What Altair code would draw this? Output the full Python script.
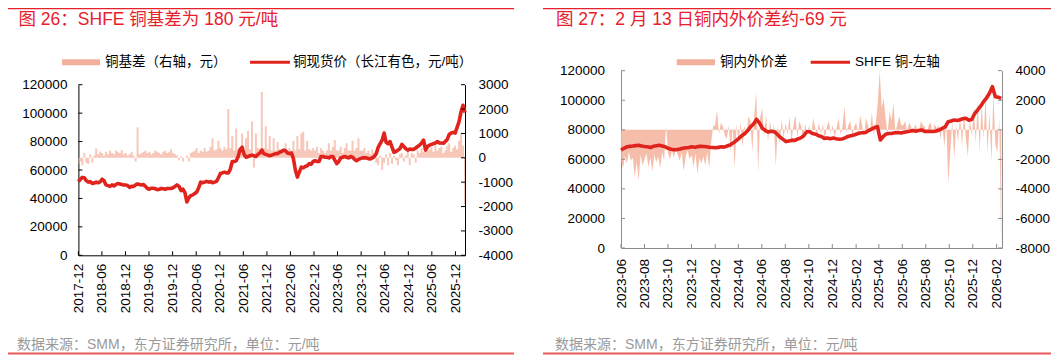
import altair as alt
import pandas as pd

# ---------------- data ----------------
# Left panel: Changjiang spot copper price (yuan/t), ~2 readings per month, 2017-12 .. 2026-02-13
left_price = [
    51800, 53500,                                                   # 2017-12
    54800, 54500, 52500, 51500, 51800, 50500, 50800, 51500, 51000, 51600, 53500, 52500,   # 2018 H1
    49500, 49000, 48500, 49500, 48800, 49800, 50500, 50200, 49800, 49500, 49500, 49000,   # 2018 H2
    47800, 48500, 48500, 49500, 50200, 49800, 49500, 49800, 48500, 47000, 46500, 47200,   # 2019 H1
    47200, 46800, 46200, 46500, 47000, 46800, 46500, 47000, 47000, 47000, 47500, 48500,   # 2019 H2
    49500, 48500, 45500, 46500, 44000, 37500, 40500, 42000, 42500, 43500, 44500, 47500,   # 2020 H1
    51500, 51000, 51500, 52000, 51500, 51800, 51000, 51500, 52000, 54500, 57500, 58000,   # 2020 H2
    58500, 58000, 58000, 60500, 66000, 66000, 66500, 69500, 74500, 76000, 71000, 69000,   # 2021 H1
    69500, 70000, 70500, 70000, 69500, 71000, 72000, 74000, 71500, 71000, 70500, 70000,   # 2021 H2
    70500, 71000, 71500, 71500, 72500, 73000, 74000, 73500, 72000, 71500, 72000, 68000,   # 2022 H1
    60000, 55000, 58500, 62000, 61500, 62500, 63000, 64500, 64000, 66000, 66500, 66000,   # 2022 H2
    66000, 69500, 69500, 69000, 69000, 68500, 69500, 69500, 67000, 64500, 66000, 68500,   # 2023 H1
    69000, 69500, 69000, 68500, 69500, 69000, 67500, 66500, 67500, 68000, 68500, 68500,   # 2023 H2
    68500, 68000, 67800, 68500, 69500, 71500, 76000, 78500, 81000, 86000, 79500, 78500,   # 2024 H1
    80000, 76000, 72500, 73000, 74000, 75000, 78000, 76500, 75000, 74000, 74800, 74500,   # 2024 H2
    74500, 75500, 76500, 77500, 79000, 81000, 74000, 76500, 77500, 78000, 78500, 79000,   # 2025 H1
    80000, 79000, 79000, 78800, 80000, 81500, 85000, 86000, 86500, 86000, 90000, 94000,   # 2025 H2
    101000, 105500, 100500,                                         # 2026-01 .. 02
]
# Left panel: SHFE copper basis (yuan/t, right axis), same dates as left_price
left_basis = [
    -250, -150,                                                     # 2017-12
    -300, 200, -200, -250, 150, -200, 100, 380, 150, 250, 200, 100,  # 2018 H1
    250, 150, 300, 200, 150, 300, 250, 200, 320, 150, 200, 100,      # 2018 H2
    150, 250, 100, -150, 1250, 150, 200, 250, 300, 200, 250, 150,    # 2019 H1
    200, 300, 250, 200, 150, 250, 300, 200, 250, 350, 200, 150,      # 2019 H2
    100, -100, 50, -150, 0, 100, -150, 200, 250, 300, 400, 200,      # 2020 H1
    300, 250, 400, 250, 300, 450, 800, 300, 350, 700, 400, 300,      # 2020 H2
    450, 350, 2000, 400, 900, 300, 1200, 350, 400, 1000, 300, 800,   # 2021 H1
    1100, 350, 1500, -400, 1000, 400, 350, 2700, 400, 1300, 350, 900,  # 2021 H2
    300, 800, 300, 650, 350, 300, 300, 600, 300, 400, 200, 700,      # 2022 H1
    300, 900, 350, 1000, 1070, 300, 700, 350, 300, 400, 300, 450,    # 2022 H2
    200, 400, 300, 200, 300, 600, 300, 450, 730, 300, 300, 450,      # 2023 H1
    200, 400, 600, 300, 300, 700, 300, 400, 800, 300, 300, 400,      # 2023 H2
    200, 300, 150, 350, 200, -200, -300, 100, -500, -200, 150, -300,  # 2024 H1
    200, -250, 100, -100, -300, 150, 200, -150, 100, 250, -300, 200,  # 2024 H2
    150, -200, 300, 200, 400, 250, 600, 300, 350, 450, 250, 500,     # 2025 H1
    300, 400, 450, 200, 300, 500, 600, 250, 400, 500, 350, 700,      # 2025 H2
    1000, 500, -1900,                                               # 2026-01 .. 02
]
# Right panel: SHFE copper (left axis), ~4 readings per month, 2023-06 .. 2026-02-13
right_price = [
    66300, 67500, 68500, 68800, 69000, 69300, 69500, 69000,          # 2023-06, 07
    68700, 68500, 68000, 68800, 69200, 69500, 69000, 68500,          # 2023-08, 09
    67500, 66800, 66500, 66600, 67000, 67500, 67800, 68000,          # 2023-10, 11
    68500, 68200, 68600, 68900, 68700, 68500, 68200, 68000,          # 2023-12, 2024-01
    67800, 68100, 68500, 68300, 69000, 69700, 71000, 72500,          # 2024-02, 03
    74200, 76000, 77500, 79500, 82100, 84000, 87100, 84500,          # 2024-04, 05
    81000, 79500, 78500, 79000, 78700, 77000, 75000, 73500,          # 2024-06, 07
    72000, 72500, 73000, 72800, 73800, 74500, 76000, 78700,          # 2024-08, 09
    78700, 77500, 77000, 76000, 75500, 74200, 74500, 74000,          # 2024-10, 11
    74500, 74000, 73600, 73800, 74500, 75500, 76000, 76500,          # 2024-12, 2025-01
    77200, 77800, 78000, 78200, 79500, 80500, 81500, 82100,          # 2025-02, 03
    73100, 75500, 77200, 77500, 77600, 78000, 78200, 77800,          # 2025-04, 05
    78300, 78700, 79000, 79500, 79000, 79500, 79900, 78900,          # 2025-06, 07
    79000, 78900, 78800, 79200, 80000, 81000, 82000, 85500,          # 2025-08, 09
    86000, 86600, 86300, 86800, 87500, 87800, 86500, 87000,          # 2025-10, 11
    91000, 93400, 96000, 99000, 101500, 104700, 109200, 102400,      # 2025-12, 2026-01
    102000, 101300,                                                 # 2026-02
]
# Right panel: domestic-foreign copper spread (right axis), ~6 readings per month
right_basis = [
    -2000, -2600, -1800, -2300, -1500, -2100,    # 2023-06
    -1900, -3200, -2200, -3400, -1700, -2400,    # 2023-07
    -2000, -1600, -2500, -1900, -2800, -1700,    # 2023-08
    -2200, -1800, -2600, -1500, -2100, 300,      # 2023-09
    -1600, -2000, -1400, -1900, -1300, -1700,    # 2023-10
    -2100, -1500, -2800, -1800, -1400, -2000,    # 2023-11
    -1700, -2500, -1600, -3000, -1900, -2300,    # 2023-12
    -1800, -2400, -1500, -2600, -900, 200,       # 2024-01
    300, 1340, -300, 500, 200, -400,             # 2024-02
    -600, 300, -1500, 200, -2600, 400,           # 2024-03
    -800, 500, -1200, 300, -400, 900,            # 2024-04
    600, -1500, 1000, 2580, -2900, 800,          # 2024-05
    1470, -500, 1000, -800, 600, -300,           # 2024-06
    400, -2500, 300, -1000, 700, -600,           # 2024-07
    500, -300, 900, -800, 300, 1000,             # 2024-08
    -500, 600, 200, -800, 400, -300,             # 2024-09
    300, -600, 800, 200, -400, 500,              # 2024-10
    -300, 400, -700, 200, 600, -200,             # 2024-11
    300, -500, 100, 800, -300, 200,              # 2024-12
    1560, -200, 300, 600, -400, 200,             # 2025-01
    500, -300, 1000, 300, -500, 800,             # 2025-02
    300, -200, 1200, -400, 500, 1800,            # 2025-03
    4000, 1500, 2150, 800, -300, 1200,           # 2025-04
    600, 1800, -200, 400, 900, 300,              # 2025-05
    300, 600, -200, 500, 200, -300,              # 2025-06
    400, 100, -200, 600, 300, 200,               # 2025-07
    -300, 300, 500, -200, 400, 100,              # 2025-08
    300, -600, 200, -1140, 500, -3600,           # 2025-09
    -1500, 600, -2000, 300, -800, 1000,          # 2025-10
    -1200, 1200, -600, -1800, 800, -400,         # 2025-11
    1500, -900, 2000, -1500, 1800, -600,         # 2025-12
    2240, -1570, 1200, -2200, 2500, -1000,       # 2026-01
    -1500, 800, -8000,                           # 2026-02
]

left_dates = pd.date_range("2017-12-01", "2026-02-13", periods=len(left_price))
left_basis_dates = pd.date_range("2017-12-01", "2026-02-13", periods=len(left_basis))
right_dates = pd.date_range("2023-06-01", "2026-02-13", periods=len(right_price))
right_basis_dates = pd.date_range("2023-06-01", "2026-02-13", periods=len(right_basis))

left_x_ticks = ["2017-12", "2018-06", "2018-12", "2019-06", "2019-12", "2020-06", "2020-12",
                "2021-06", "2021-12", "2022-06", "2022-12", "2023-06", "2023-12", "2024-06",
                "2024-12", "2025-06", "2025-12"]
right_x_ticks = ["2023-06", "2023-08", "2023-10", "2023-12", "2024-02", "2024-04", "2024-06",
                 "2024-08", "2024-10", "2024-12", "2025-02", "2025-04", "2025-06", "2025-08",
                 "2025-10", "2025-12", "2026-02"]
left_y_ticks = [0, 20000, 40000, 60000, 80000, 100000, 120000]
left_y2_ticks = [-4000, -3000, -2000, -1000, 0, 1000, 2000, 3000]
right_y_ticks = [0, 20000, 40000, 60000, 80000, 100000, 120000]
right_y2_ticks = [-8000, -6000, -4000, -2000, 0, 2000, 4000]

title_left = "图 26：SHFE 铜基差为 180 元/吨"
title_right = "图 27：2 月 13 日铜内外价差约-69 元"
legend_left = ["铜基差（右轴，元）", "铜现货价（长江有色，元/吨）"]
legend_right = ["铜内外价差", "SHFE 铜-左轴"]
footer = "数据来源：SMM，东方证券研究所，单位：元/吨"

# ---------------- styling ----------------
W, H = 1043, 347
FONT = "Liberation Sans, Noto Sans CJK SC"
RED = "#E0241D"
TITLE_RED = "#E8202A"
BASIS = "#F3B19B"
GRAY_AX = "#8C8C8C"

# plot rectangles (view pixel coordinates)
LX0, LX1, LYT, LYB = 70.4, 457.0, 76.7, 247.3
RX0, RX1, RYT, RYB = 613.0, 994.0, 62.7, 240.0


def dt(s):
    y, m = s.split("-")[:2]
    return alt.DateTime(year=int(y), month=int(m), date=1)


LXS = alt.Scale(domain=[dt("2017-12"), alt.DateTime(year=2026, month=2, date=13)], range=[LX0, LX1])
LYS = alt.Scale(domain=[0, 120000], range=[LYB, LYT], nice=False, zero=False)
LY2S = alt.Scale(domain=[-4000, 3000], range=[LYB, LYT], nice=False, zero=False)
RXS = alt.Scale(domain=[dt("2023-06"), alt.DateTime(year=2026, month=2, date=15)], range=[RX0, RX1])
RYS = alt.Scale(domain=[0, 120000], range=[RYB, RYT], nice=False, zero=False)
RY2S = alt.Scale(domain=[-8000, 4000], range=[RYB, RYT], nice=False, zero=False)

axis_common = dict(grid=False, title=None, ticks=False, tickSize=0, labelFont=FONT,
                   labelFontSize=13.5, labelColor="#000000", domainWidth=1, labelOverlap=False,
                   labelFlush=False, labelBound=False)


def yaxis(values, orient, offset, pad, color):
    return alt.Axis(orient=orient, offset=offset, values=values, labelPadding=pad,
                    domainColor=color, labelExpr="'' + datum.value", **axis_common)


def xaxis(ticks, offset, pad, color):
    return alt.Axis(orient="bottom", offset=offset, values=[dt(t) for t in ticks], format="%Y-%m",
                    labelAngle=270, labelPadding=pad, domainColor=color, **axis_common)


df_lp = pd.DataFrame({"date": left_dates, "v": left_price})
df_lb = pd.DataFrame({"date": left_basis_dates, "v": left_basis, "zero": 0})
df_rp = pd.DataFrame({"date": right_dates, "v": right_price})
df_rb = pd.DataFrame({"date": right_basis_dates, "v": right_basis, "zero": 0})

left_bars = alt.Chart(df_lb).mark_area(color=BASIS, opacity=0.7, interpolate="step").encode(
    x=alt.X("date:T", scale=LXS, axis=xaxis(left_x_ticks, -(H - LYB), 8, "#000000")),
    y=alt.Y("v:Q", scale=LY2S, axis=yaxis(left_y2_ticks, "right", -(W - LX1), 13, "#000000")),
    y2="zero:Q",
)
left_line = alt.Chart(df_lp).mark_line(color=RED, strokeWidth=3.6, strokeJoin="round").encode(
    x=alt.X("date:T", scale=LXS, axis=None),
    y=alt.Y("v:Q", scale=LYS, axis=yaxis(left_y_ticks, "left", -LX0, 11.5, "#000000")),
)
right_bars = alt.Chart(df_rb).mark_area(color=BASIS, opacity=0.85, interpolate="linear").encode(
    x=alt.X("date:T", scale=RXS, axis=xaxis(right_x_ticks, -(H - RYB), 10.5, GRAY_AX)),
    y=alt.Y("v:Q", scale=RY2S, axis=yaxis(right_y2_ticks, "right", -(W - RX1), 13, GRAY_AX)),
    y2="zero:Q",
)
right_line = alt.Chart(df_rp).mark_line(color=RED, strokeWidth=3.6, strokeJoin="round").encode(
    x=alt.X("date:T", scale=RXS, axis=None),
    y=alt.Y("v:Q", scale=RYS, axis=yaxis(right_y_ticks, "left", -RX0, 16.5, GRAY_AX)),
)


def y_ticks(values, scale, x1, x2, color):
    return alt.Chart(pd.DataFrame({"v": values})).mark_rule(color=color, strokeWidth=1).encode(
        y=alt.Y("v:Q", scale=scale, axis=None), x=alt.value(x1), x2=alt.value(x2))


def x_ticks(ticks, scale, y1, y2, color):
    d = pd.to_datetime([t + "-01" for t in ticks])
    return alt.Chart(pd.DataFrame({"d": d})).mark_rule(color=color, strokeWidth=1).encode(
        x=alt.X("d:T", scale=scale, axis=None), y=alt.value(y1), y2=alt.value(y2))


ONE = pd.DataFrame({"k": [0]})


def text(t, x, y, size, color, weight="normal"):
    return alt.Chart(ONE).mark_text(text=t, align="left", baseline="middle", font=FONT,
                                    fontSize=size, color=color, fontWeight=weight).encode(
        x=alt.value(x), y=alt.value(y))


def hrule(x1, x2, y, color, width):
    return alt.Chart(ONE).mark_rule(color=color, strokeWidth=width).encode(
        x=alt.value(x1), x2=alt.value(x2), y=alt.value(y))


layers = [
    left_bars, left_line, right_bars, right_line,
    y_ticks(left_y_ticks, LYS, LX0, LX0 + 4, "#000000"),
    y_ticks(left_y2_ticks, LY2S, LX1 - 4, LX1, "#000000"),
    x_ticks(left_x_ticks, LXS, LYB, LYB - 4, "#000000"),
    y_ticks(right_y_ticks, RYS, RX0, RX0 + 4, GRAY_AX),
    y_ticks(right_y2_ticks, RY2S, RX1 - 4, RX1, GRAY_AX),
    x_ticks(right_x_ticks, RXS, RYB, RYB - 4, GRAY_AX),
    # header / footer decorations
    hrule(0, 506, 0.5, TITLE_RED, 1.5),
    hrule(535, 1043, 0.5, TITLE_RED, 1.5),
    text(title_left, 10.5, 12, 17.5, TITLE_RED),
    text(title_right, 548, 12, 17.5, TITLE_RED),
    hrule(54, 92, 54.3, BASIS, 6),
    text(legend_left[0], 97, 54.3, 13.5, "#000000"),
    hrule(242, 282, 54.3, RED, 3),
    text(legend_left[1], 285, 54.3, 13.5, "#000000"),
    hrule(668.7, 707, 54.3, BASIS, 6),
    text(legend_right[0], 712, 54.3, 13.5, "#000000"),
    hrule(802.7, 842, 54.3, RED, 3),
    text(legend_right[1], 847, 54.3, 13.5, "#000000"),
    text(footer, 9, 336.6, 14, "#9A9A9A"),
    text(footer, 547, 336.6, 14, "#9A9A9A"),
    hrule(0, 506, 345.5, "#E8595A", 2),
    hrule(535, 1043, 345.5, "#E8595A", 2),
]

chart = alt.layer(*layers).resolve_scale(x="independent", y="independent").properties(
    width=W, height=H, autosize=alt.AutoSizeParams(type="none"), padding=0,
    background="white",
).configure_view(stroke=None)

chart.save("out.html", embed_options={"renderer": "svg", "actions": False})
